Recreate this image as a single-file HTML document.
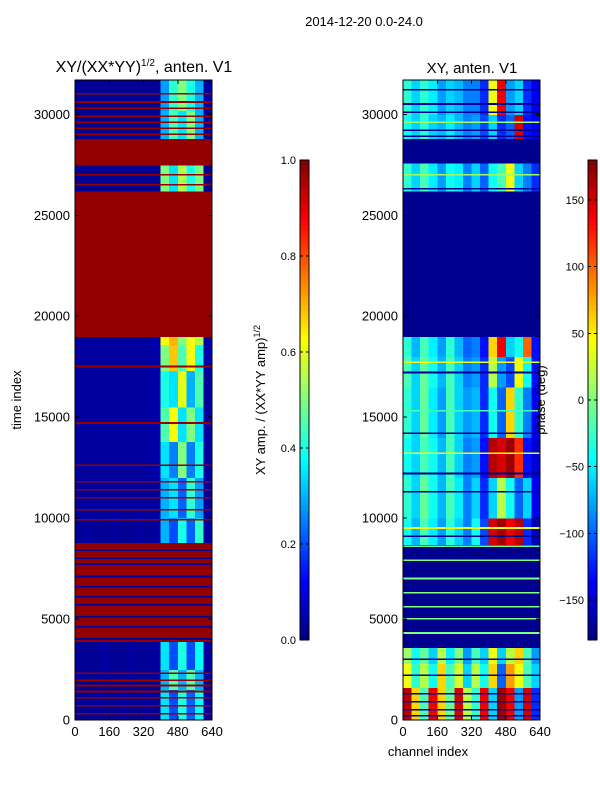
<!DOCTYPE html>
<html><head><meta charset="utf-8"><style>
body{margin:0;background:#fff;}
svg{display:block;font-family:"Liberation Sans",sans-serif;}
</style></head><body>
<svg id="fig" width="600" height="800" viewBox="0 0 600 800" shape-rendering="crispEdges">
<text x="364" y="26" font-size="13" text-anchor="middle">2014-12-20 0.0-24.0</text>
<text x="144" y="72" font-size="16" text-anchor="middle">XY/(XX*YY)<tspan font-size="10" dy="-6">1/2</tspan><tspan dy="6">, anten. V1</tspan></text>
<text x="472" y="73" font-size="15" text-anchor="middle">XY, anten. V1</text>
<text x="21" y="400" font-size="13" text-anchor="middle" transform="rotate(-90 21 400)">time index</text>
<text x="428" y="756" font-size="13" text-anchor="middle">channel index</text>
<text x="265" y="400" font-size="13" text-anchor="middle" transform="rotate(-90 265 400)">XY amp. / (XX*YY amp)<tspan font-size="9" dy="-5">1/2</tspan></text>
<g id="left"></g>
<g id="right"></g>
<g id="cbars"></g>
<text x="545" y="400" font-size="13" text-anchor="middle" transform="rotate(-90 545 400)">phase (deg)</text>
</svg>
<script>
// ---- data ----
const tMax = 31700;
const chanMax = 640;
const yTicks = [0,5000,10000,15000,20000,25000,30000];
const xTicks = [0,160,320,480,640];
const ampTicks = [0.0,0.2,0.4,0.6,0.8,1.0];
const phaseTicks = [-150,-100,-50,0,50,100,150];
// amplitude bands: start, end, 16 column values (40 channels each)
const ampBandStarts = [0,1500,2500,3900,8800,10000,12000,13800,15500,17300,18600,19000,26200,27500,28800,30200];
const ampBandEnds   = [1500,2500,3900,8800,10000,12000,13800,15500,17300,18600,19000,26200,27500,28800,30200,31700];
const ampBandValues = [
[0.02,0.02,0.03,0.02,0.02,0.03,0.02,0.02,0.03,0.02,0.35,0.2,0.4,0.22,0.38,0.03],
[0.03,0.02,0.02,0.03,0.02,0.02,0.03,0.02,0.02,0.03,0.3,0.45,0.3,0.45,0.3,0.03],
[0.02,0.02,0.02,0.03,0.02,0.02,0.03,0.02,0.02,0.03,0.35,0.2,0.4,0.2,0.38,0.03],
[0.98,0.98,0.98,0.98,0.98,0.98,0.98,0.98,0.98,0.98,0.98,0.98,0.98,0.98,0.98,0.98],
[0.02,0.03,0.02,0.02,0.03,0.02,0.02,0.03,0.02,0.03,0.3,0.2,0.4,0.22,0.42,0.03],
[0.03,0.03,0.03,0.03,0.03,0.03,0.03,0.03,0.03,0.03,0.3,0.35,0.22,0.42,0.28,0.03],
[0.03,0.03,0.03,0.03,0.03,0.03,0.03,0.03,0.03,0.04,0.35,0.25,0.5,0.25,0.4,0.03],
[0.03,0.03,0.03,0.03,0.03,0.03,0.03,0.03,0.03,0.04,0.45,0.62,0.35,0.5,0.35,0.03],
[0.03,0.03,0.03,0.03,0.03,0.03,0.03,0.03,0.03,0.04,0.4,0.35,0.6,0.3,0.45,0.03],
[0.03,0.03,0.03,0.03,0.03,0.03,0.03,0.03,0.03,0.04,0.5,0.68,0.45,0.62,0.4,0.04],
[0.03,0.03,0.03,0.03,0.03,0.03,0.03,0.03,0.03,0.05,0.62,0.7,0.5,0.62,0.55,0.04],
[0.98,0.98,0.98,0.98,0.98,0.98,0.98,0.98,0.98,0.98,0.98,0.98,0.98,0.98,0.98,0.98],
[0.02,0.02,0.02,0.02,0.02,0.02,0.02,0.02,0.02,0.02,0.5,0.35,0.55,0.4,0.5,0.02],
[0.98,0.98,0.98,0.98,0.98,0.98,0.98,0.98,0.98,0.98,0.98,0.98,0.98,0.98,0.98,0.98],
[0.02,0.02,0.02,0.02,0.02,0.02,0.02,0.02,0.02,0.02,0.3,0.45,0.35,0.5,0.3,0.03],
[0.02,0.02,0.02,0.02,0.02,0.02,0.02,0.02,0.02,0.02,0.28,0.42,0.5,0.4,0.3,0.03]];
const ampLineTimes  = [300,700,1100,1400,1700,1950,2300,4000,4600,5100,5700,6100,6600,7100,7700,8000,8400,9900,10400,11000,11400,11800,12600,14700,17500,26500,27000,29000,29300,29600,29900,30300,30600,31000];
const ampLineValues = [0.98,0.98,0.98,0.98,0.98,0.98,0.98,0.02,0.02,0.02,0.02,0.02,0.02,0.02,0.02,0.02,0.02,0.98,0.98,0.98,0.98,0.98,0.98,0.98,0.98,0.98,0.98,0.98,0.98,0.98,0.98,0.98,0.98,0.98];
// phase bands
const phBandStarts = [0,1600,2800,3600,8700,10000,12000,14000,16500,18000,19000,26200,27600,28800,30000];
const phBandEnds   = [1600,2800,3600,8700,10000,12000,14000,16500,18000,19000,26200,27600,28800,30000,31700];
const phBandValues = [
[160,60,-20,140,60,-10,150,20,-30,140,-60,170,140,-80,150,-120],
[40,-30,20,-40,60,-20,30,-60,20,-40,60,-100,80,40,-20,-60],
[10,-40,-10,-60,20,-50,0,-80,-20,-60,40,-60,20,60,-20,-80],
[-175,-175,-175,-175,-175,-175,-175,-175,-175,-175,-175,-175,-175,-175,-175,-175],
[-40,-70,-20,-50,-80,-30,-60,-90,-40,-110,150,170,140,160,-120,-160],
[-30,-60,-10,-40,-70,-20,-50,-90,-60,-120,-60,20,-40,-100,-60,-140],
[-40,-60,-20,-40,-70,-20,-60,-90,-80,-130,160,150,170,120,-130,-150],
[-30,-60,-10,-50,-80,-20,-60,-80,-70,-120,-40,-100,60,-30,-90,-140],
[-20,-60,-10,-40,-70,-20,-60,-90,-80,-120,20,-80,-110,40,-40,-130],
[-30,-70,-20,-50,-80,-30,-70,-100,-90,-130,60,140,-60,-40,100,-130],
[-175,-175,-175,-175,-175,-175,-175,-175,-175,-175,-175,-175,-175,-175,-175,-175],
[-30,-60,-20,-50,-80,-40,-50,-90,-60,-100,-40,-20,40,-60,-90,-120],
[-175,-175,-175,-175,-175,-175,-175,-175,-175,-175,-175,-175,-175,-175,-175,-175],
[-40,-60,-30,-60,-70,-50,-70,-90,-80,-110,-60,-120,-100,150,-130,-140],
[-30,-60,-30,-50,-80,-60,-70,-90,-90,-120,40,140,-80,-60,-120,-140]];
const phLineTimes  = [200,500,900,1300,2200,3000,4300,5000,5600,6300,7000,7300,7900,8600,9100,9500,11300,12200,13200,14200,15300,17200,17700,26300,27000,28900,29200,29600,30100,30500,31200];
const phLineValues = [-175,-175,-175,-175,-175,-175,0,0,0,0,0,-175,0,-10,-175,40,-175,-175,40,-175,-20,-175,40,-175,10,-175,-175,10,-175,-175,-175];

// ---- helpers ----
const NS="http://www.w3.org/2000/svg";
function jet(v){v=Math.max(0,Math.min(1,v));
 const r=Math.max(0,Math.min(1,1.5-Math.abs(4*v-3))),g=Math.max(0,Math.min(1,1.5-Math.abs(4*v-2))),b=Math.max(0,Math.min(1,1.5-Math.abs(4*v-1)));
 return `rgb(${Math.round(r*255)},${Math.round(g*255)},${Math.round(b*255)})`;}
function mk(tag,attrs,parent){const e=document.createElementNS(NS,tag);for(const k in attrs)e.setAttribute(k,attrs[k]);parent.appendChild(e);return e;}
const PT=80,PB=720;
const yScale=t=>PB-t/tMax*(PB-PT);
function panel(g,x0,x1,starts,ends,vals,lT,lV,norm){
 const xs=c=>x0+c/chanMax*(x1-x0);
 starts.forEach((s,i)=>{vals[i].forEach((v,j)=>{
  const r=mk('rect',{x:xs(j*40),y:yScale(ends[i]),width:xs((j+1)*40)-xs(j*40)+0.5,height:yScale(s)-yScale(ends[i])+0.5,fill:jet(norm(v))},g);
  
  
 });});
 lT.forEach((t,i)=>{
  const r=mk('rect',{x:x0,y:yScale(t)-1,width:x1-x0,height:1.6,fill:jet(norm(lV[i]))},g);
  
  
 });
 const f=mk('rect',{x:x0,y:PT,width:x1-x0,height:PB-PT,fill:'none',stroke:'#000','stroke-width':1},g);
 
 
 yTicks.forEach(t=>{const y=yScale(t);
  mk('line',{x1:x0,x2:x0+4,y1:y,y2:y,stroke:'#000'},g);mk('line',{x1:x1,x2:x1-4,y1:y,y2:y,stroke:'#000'},g);
  const tx=mk('text',{x:x0-5,y:y+4.5,'font-size':13,'text-anchor':'end'},g);tx.textContent=t;
  
  });
 xTicks.forEach(c=>{const x=xs(c);
  mk('line',{x1:x,x2:x,y1:PB,y2:PB-4,stroke:'#000'},g);mk('line',{x1:x,x2:x,y1:PT,y2:PT+4,stroke:'#000'},g);
  const tx=mk('text',{x:x,y:PB+16,'font-size':13,'text-anchor':'middle'},g);tx.textContent=c;
  
  });
}
panel(document.getElementById('left'),75,212,ampBandStarts,ampBandEnds,ampBandValues,ampLineTimes,ampLineValues,v=>v);
panel(document.getElementById('right'),403,540,phBandStarts,phBandEnds,phBandValues,phLineTimes,phLineValues,v=>(v+180)/360);
function cbar(g,x,w,ticks,lo,hi,fmt){
 const top=160,bot=640,N=96;
 for(let i=0;i<N;i++){const r=mk('rect',{x:x,y:bot-(i+1)*(bot-top)/N,width:w,height:(bot-top)/N+0.5,fill:jet((i+0.5)/N)},g);
  
  }
 mk('rect',{x:x,y:top,width:w,height:bot-top,fill:'none',stroke:'#000'},g);
 ticks.forEach(t=>{const y=bot-(t-lo)/(hi-lo)*(bot-top);
  mk('line',{x1:x,x2:x+3,y1:y,y2:y,stroke:'#000'},g);mk('line',{x1:x+w,x2:x+w-3,y1:y,y2:y,stroke:'#000'},g);
  const tx=mk('text',{x:x-4,y:y+4,'font-size':11,'text-anchor':'end'},g);tx.textContent=fmt(t);
  
  });
}
const cb=document.getElementById('cbars');
cbar(cb,300,9,ampTicks,0,1,t=>t.toFixed(1));
cbar(cb,588,9,phaseTicks,-180,180,t=>t<0?'\u2212'+(-t):String(t));
</script>
</body></html>
